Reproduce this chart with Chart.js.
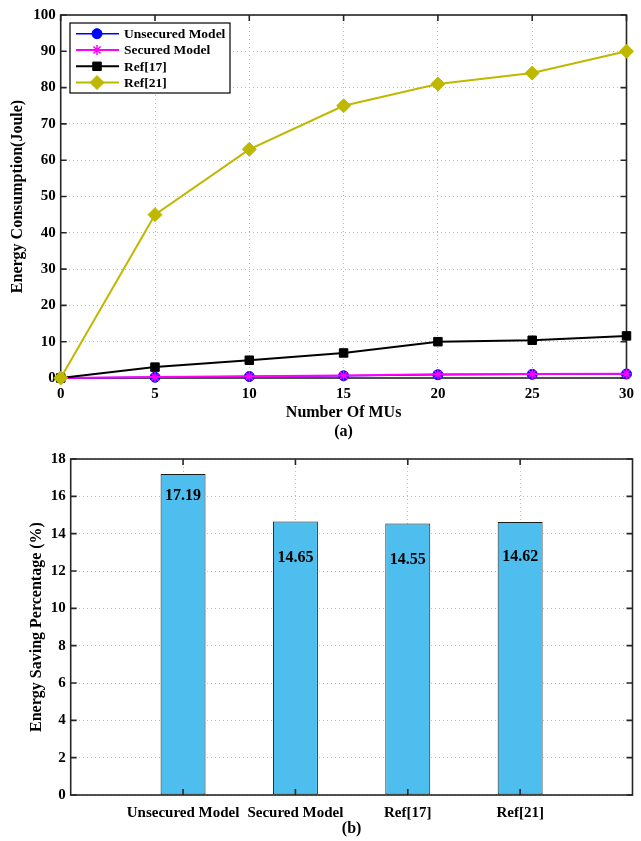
<!DOCTYPE html>
<html><head><meta charset="utf-8">
<script src="https://cdn.jsdelivr.net/npm/chart.js@4.4.0/dist/chart.umd.min.js"></script>
<style>
html,body{margin:0;padding:0;background:#fff;}
#w1{position:absolute;left:0;top:0;width:641px;height:445px;}
#w2{position:absolute;left:0;top:445px;width:641px;height:396px;}
</style></head><body>
<div id="w1"><canvas id="c1" width="641" height="445"></canvas></div>
<div id="w2"><canvas id="c2" width="641" height="396"></canvas></div>
<script>
// ---- data (chart a) ----
const mus = [0, 5, 10, 15, 20, 25, 30];
const unsecured = [0, 0.2, 0.4, 0.6, 0.9, 1.0, 1.1];
const secured = [0, 0.25, 0.45, 0.7, 1.0, 1.1, 1.2];
const ref17 = [0, 3, 4.9, 6.9, 10, 10.4, 11.6];
const ref21 = [0, 45, 63, 75, 81, 84, 90];
const seriesNames = ['Unsecured Model', 'Secured Model', 'Ref[17]', 'Ref[21]'];
// ---- data (chart b) ----
const models = ['Unsecured Model', 'Secured Model', 'Ref[17]', 'Ref[21]'];
const savings = [17.19, 14.65, 14.55, 14.62];
const savingLabels = ['17.19', '14.65', '14.55', '14.62'];

const FF = "'Liberation Serif','Times New Roman',serif";
const GRID = '#b4b4f0';
const AX = '#262626';

function pts(xs, ys) { return xs.map((x, i) => ({x: x, y: ys[i]})); }

const framePlugin = {
  id: 'frame',
  draw(chart, opts) {
    const ctx = chart.ctx, a = chart.chartArea;
    const xs = chart.scales.x, ys = chart.scales.y;
    const L = 6;
    ctx.save();
    ctx.strokeStyle = AX;
    ctx.lineWidth = 1.6;
    ctx.strokeRect(a.left, a.top, a.right - a.left, a.bottom - a.top);
    ctx.beginPath();
    xs.ticks.forEach(t => {
      const p = xs.getPixelForValue(t.value);
      ctx.moveTo(p, a.bottom); ctx.lineTo(p, a.bottom - L);
      ctx.moveTo(p, a.top); ctx.lineTo(p, a.top + L);
    });
    ys.ticks.forEach(t => {
      const p = ys.getPixelForValue(t.value);
      ctx.moveTo(a.left, p); ctx.lineTo(a.left + L, p);
      ctx.moveTo(a.right, p); ctx.lineTo(a.right - L, p);
    });
    ctx.stroke();
    ctx.restore();
  },
  beforeDatasetsDraw(chart, args, opts) { if (opts.layer === 'below') this.draw(chart, opts); },
  afterDatasetsDraw(chart, args, opts) { if (opts.layer !== 'below') this.draw(chart, opts); }
};

const legendPlugin = {
  id: 'boxLegend',
  afterDraw(chart, args, opts) {
    if (!opts.show) return;
    const ctx = chart.ctx;
    const bx = 70, by = 23, bw = 160, bh = 70;
    ctx.save();
    ctx.fillStyle = '#fff';
    ctx.fillRect(bx, by, bw, bh);
    ctx.strokeStyle = '#000';
    ctx.lineWidth = 1.2;
    ctx.strokeRect(bx, by, bw, bh);
    ctx.font = 'bold 13.5px ' + FF;
    ctx.textBaseline = 'middle';
    chart.data.datasets.forEach((ds, i) => {
      const y = by + 10.7 + i * 16.3;
      ctx.strokeStyle = ds.borderColor;
      ctx.lineWidth = ds.borderWidth;
      ctx.beginPath(); ctx.moveTo(bx + 6, y); ctx.lineTo(bx + 49, y); ctx.stroke();
      ctx.fillStyle = ds.pointBackgroundColor;
      ctx.strokeStyle = ds.pointBorderColor;
      ctx.lineWidth = ds.pointBorderWidth;
      Chart.helpers.drawPoint(ctx, {pointStyle: ds.pointStyle, radius: ds.pointRadius, rotation: 0, borderWidth: ds.pointBorderWidth}, bx + 27, y);
      ctx.fillStyle = '#000';
      ctx.fillText(ds.label, bx + 54, y + 1);
    });
    ctx.restore();
  }
};

const barLabelPlugin = {
  id: 'barLabels',
  afterDatasetsDraw(chart, args, opts) {
    if (!opts.show) return;
    const ctx = chart.ctx;
    const meta = chart.getDatasetMeta(0);
    ctx.save();
    ctx.font = 'bold 16px ' + FF;
    ctx.fillStyle = '#000';
    ctx.textAlign = 'center';
    ctx.textBaseline = 'middle';
    meta.data.forEach((el, i) => {
      ctx.fillText(opts.labels[i], el.x, el.y + opts.offsets[i]);
    });
    ctx.restore();
  }
};

Chart.register(framePlugin, legendPlugin, barLabelPlugin);

const tickFont = {family: FF, weight: 'bold', size: 15};
const titleFont = {family: FF, weight: 'bold', size: 16, lineHeight: 1.2};

// ---- chart (a) ----
const lineStyles = [
  {color: '#0000ff', style: 'circle', r: 5, bw: 1.5, pbw: 1, order: 4},
  {color: '#ff00ff', style: 'star', r: 5, bw: 2, pbw: 1.5, order: 3},
  {color: '#000000', style: 'rect', r: 6, bw: 2, pbw: 1, order: 2},
  {color: '#bfb800', style: 'rectRot', r: 7, bw: 2, pbw: 1, order: 1}
];
const lineSeries = [unsecured, secured, ref17, ref21];

new Chart(document.getElementById('c1'), {
  type: 'line',
  data: {
    datasets: lineSeries.map((s, i) => ({
      label: seriesNames[i],
      data: pts(mus, s),
      borderColor: lineStyles[i].color,
      backgroundColor: lineStyles[i].color,
      borderWidth: lineStyles[i].bw,
      pointStyle: lineStyles[i].style,
      pointRadius: lineStyles[i].r,
      pointBackgroundColor: lineStyles[i].color,
      pointBorderColor: lineStyles[i].color,
      pointBorderWidth: lineStyles[i].pbw,
      tension: 0,
      clip: false,
      order: lineStyles[i].order
    }))
  },
  options: {
    responsive: false,
    animation: false,
    events: [],
    layout: {padding: {top: 15, right: 8.5, left: 0, bottom: 0}},
    plugins: {
      legend: {display: false},
      tooltip: {enabled: false},
      frame: {layer: 'below'},
      boxLegend: {show: true},
      barLabels: {show: false}
    },
    scales: {
      x: {
        type: 'linear', min: 0, max: 30,
        ticks: {stepSize: 5, font: tickFont, color: '#000', padding: 7, maxRotation: 0},
        grid: {color: GRID, lineWidth: 1, drawTicks: false},
        border: {display: false, dash: [1, 3]},
        title: {display: true, text: ['Number Of MUs', '(a)'], font: titleFont, color: '#000', padding: {top: 0, bottom: 3.4}},
        afterFit: s => { s.height = 67; }
      },
      y: {
        min: 0, max: 100,
        ticks: {stepSize: 10, font: tickFont, color: '#000', padding: 5},
        grid: {color: GRID, lineWidth: 1, drawTicks: false},
        border: {display: false, dash: [1, 3]},
        title: {display: true, text: 'Energy Consumption(Joule)', font: titleFont, color: '#000', padding: {top: 8, bottom: 0}},
        afterFit: s => { s.width = 60.7; }
      }
    }
  }
});

// ---- chart (b) ----
new Chart(document.getElementById('c2'), {
  type: 'bar',
  data: {
    datasets: [{
      label: 'Energy Saving Percentage',
      data: savings.map((v, i) => ({x: i + 1, y: v})),
      backgroundColor: '#4dbeee',
      borderColor: '#1a1a1a',
      borderWidth: 1,
      borderSkipped: false,
      categoryPercentage: 1,
      barPercentage: 0.4
    }]
  },
  options: {
    responsive: false,
    animation: false,
    events: [],
    layout: {padding: {top: 9.7, right: 8.5, left: 0, bottom: 0}},
    plugins: {
      legend: {display: false},
      tooltip: {enabled: false},
      frame: {layer: 'above'},
      boxLegend: {show: false},
      barLabels: {show: true, labels: savingLabels, offsets: [22, 36, 36, 35]}
    },
    scales: {
      x: {
        type: 'linear', min: 0, max: 5, offset: false,
        afterBuildTicks: s => { s.ticks = models.map((m, i) => ({value: i + 1})); },
        ticks: {font: tickFont, color: '#000', padding: 9, maxRotation: 0, autoSkip: false,
          callback: v => models[v - 1] || ''},
        grid: {color: GRID, lineWidth: 1, drawTicks: false, offset: false},
        border: {display: false, dash: [1, 3]},
        title: {display: true, text: '(b)', font: titleFont, color: '#000', padding: {top: 0, bottom: 2.4}},
        afterFit: s => { s.height = 46; }
      },
      y: {
        min: 0, max: 18,
        ticks: {stepSize: 2, font: tickFont, color: '#000', padding: 5},
        grid: {color: GRID, lineWidth: 1, drawTicks: false},
        border: {display: false, dash: [1, 3]},
        title: {display: true, text: 'Energy Saving Percentage (%)', font: titleFont, color: '#000', padding: {top: 27, bottom: 0}},
        afterFit: s => { s.width = 70.7; }
      }
    }
  }
});
</script>
</body></html>
